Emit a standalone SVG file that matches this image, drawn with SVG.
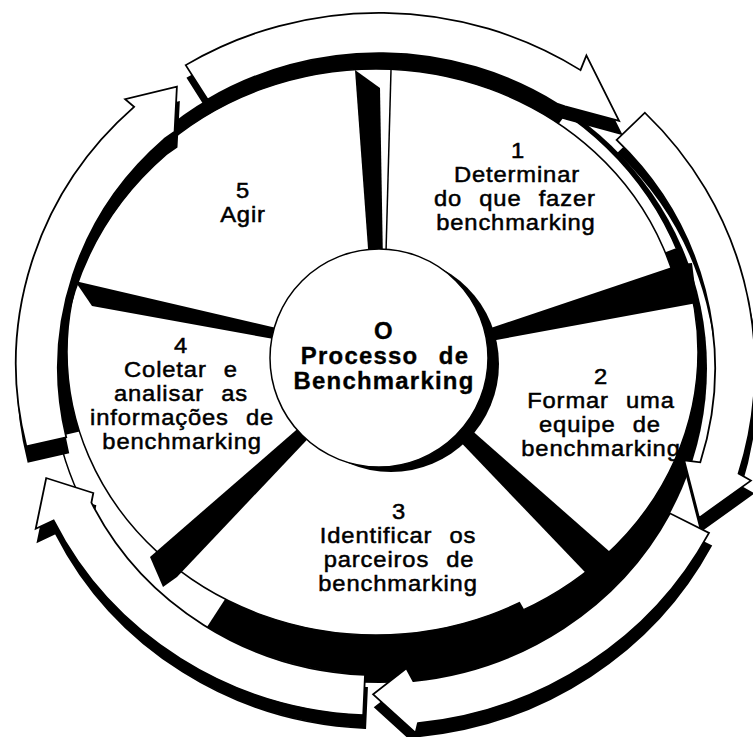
<svg xmlns="http://www.w3.org/2000/svg" width="753" height="737" viewBox="0 0 753 737">
<style>
.lbl{font-family:"Liberation Sans",Arial,Helvetica,sans-serif;font-size:22px;letter-spacing:0.8px;word-spacing:9px;fill:#000;stroke:#000;stroke-width:0.5px;text-anchor:middle}
.ctr{font-family:"Liberation Sans",Arial,Helvetica,sans-serif;font-size:23px;font-weight:bold;letter-spacing:1.2px;word-spacing:12px;fill:#000;stroke:#000;stroke-width:0.35px;text-anchor:middle}
.arrow{fill:#fff;stroke:#000;stroke-width:1.8;stroke-linejoin:miter}
.shadow{fill:#000;stroke:#000;stroke-width:1.8}
.ink{fill:#000}
.edge{fill:#fff;stroke:#000;stroke-width:1.5}
.line{fill:none;stroke:#000;stroke-width:1.5}
</style>
<defs>
<clipPath id="winLL"><polygon points="379,362 107,781 -31,649 -108,475"/></clipPath>
<clipPath id="winUR"><polygon points="379,362 680,-37 778,61 846,183"/></clipPath>
<clipPath id="winS2"><polygon points="379,358 865,241 849,529 629,791"/></clipPath>
<path id="a1" d="M -193.3,-315.5 A 370 370 0 0 1 201.5,-310.3 L 207.4,-325.6 L 240.1,-257.4 L 186.0,-272.6 L 178.6,-275.1 A 328 328 0 0 0 -171.4,-279.7 Z"/>
<path id="a2" d="M 265.9,-265.9 A 376 376 0 0 1 359.6,109.9 L 371.9,117.3 L 320.0,156.1 L 305.2,96.2 L 321.3,98.2 A 336 336 0 0 0 237.6,-237.6 Z"/>
<path id="a3" d="M 330.0,171.8 A 372 372 0 0 1 38.9,370.0 L 36.6,380.2 L -5.9,339.9 L 27.4,312.8 L 34.3,326.2 A 328 328 0 0 0 290.9,151.4 Z"/>
<path id="a4" d="M -15.8,361.7 A 362 362 0 0 1 -325.4,158.7 L -343.3,167.5 L -332.8,114.6 L -285.7,130.2 L -287.6,140.3 A 320 320 0 0 0 -14.0,319.7 Z"/>
<path id="a5" d="M -352.7,81.5 A 362 362 0 0 1 -244.9,-272.0 L -253.9,-280.0 L -202.1,-293.0 L -204.4,-246.2 L -214.8,-238.5 A 321 321 0 0 0 -312.8,72.2 Z"/>
</defs>
<rect width="753" height="737" fill="#fff"/>

<g id="disk">
<ellipse cx="379" cy="368" rx="328" ry="315" class="ink"/>
<ellipse cx="379" cy="368" rx="328" ry="315" class="edge" clip-path="url(#winLL)"/>
<ellipse cx="379" cy="368" rx="322" ry="312" class="edge" clip-path="url(#winUR)"/>
<ellipse cx="376" cy="352" rx="309" ry="283" class="edge"/>
<ellipse cx="376" cy="352" rx="322" ry="290" class="edge" clip-path="url(#winS2)"/>
</g>

<g id="dividers">
<polygon class="ink" points="355,70 380,88 383,262 369,262"/>
<polyline class="line" points="391,70 386,252"/>
<polygon class="ink" points="470,335 681,264 692,263 697,303 480,343"/>
<polygon class="ink" points="460,420 626,566 604,592 450,431"/>
<polygon class="ink" points="310,418 150,557 163,587 177,577 320,426"/>
<polygon class="ink" points="75,281 285,330 285,341 92,306"/>
</g>

<g id="connectors" transform="translate(379,368) scale(1,0.96)">
<use href="#a1" class="shadow" transform="translate(2,13.5)"/>
<use href="#a2" class="shadow" transform="translate(2,13.5)"/>
<use href="#a3" class="shadow" transform="translate(2,13.5)"/>
<use href="#a4" class="shadow" transform="translate(2,13.5)"/>
<use href="#a5" class="shadow" transform="translate(2,16)"/>
<use href="#a1" class="arrow"/>
<use href="#a2" class="arrow"/>
<use href="#a3" class="arrow"/>
<use href="#a4" class="arrow"/>
<use href="#a5" class="arrow"/>
</g>

<g id="center">
<circle cx="391" cy="364" r="108" class="ink"/>
<circle cx="379" cy="358" r="109" class="edge"/>
<g transform="translate(384,0) scale(1.04,1)">
<text class="ctr" x="0" y="339">O</text>
<text class="ctr" x="1" y="364">Processo de</text>
<text class="ctr" x="0" y="389">Benchmarking</text>
</g>
</g>

<g id="step-1" transform="translate(517,0) scale(1.08,1)">
<text class="lbl" x="1" y="158">1</text>
<text class="lbl" x="0" y="182">Determinar</text>
<text class="lbl" x="-2" y="206">do que fazer</text>
<text class="lbl" x="-1" y="230">benchmarking</text>
</g>

<g id="step-2" transform="translate(601,0) scale(1.08,1)">
<text class="lbl" x="0" y="384">2</text>
<text class="lbl" x="0" y="408">Formar uma</text>
<text class="lbl" x="-1" y="432">equipe de</text>
<text class="lbl" x="0" y="456">benchmarking</text>
</g>

<g id="step-3" transform="translate(398,0) scale(1.08,1)">
<text class="lbl" x="1" y="519">3</text>
<text class="lbl" x="0" y="543">Identificar os</text>
<text class="lbl" x="1" y="567">parceiros de</text>
<text class="lbl" x="0" y="591">benchmarking</text>
</g>

<g id="step-4" transform="translate(181,0) scale(1.08,1)">
<text class="lbl" x="0" y="353">4</text>
<text class="lbl" x="0" y="377">Coletar e</text>
<text class="lbl" x="0" y="401">analisar as</text>
<text class="lbl" x="1" y="425">informações de</text>
<text class="lbl" x="1" y="449">benchmarking</text>
</g>

<g id="step-5" transform="translate(243,0) scale(1.08,1)">
<text class="lbl" x="0" y="198">5</text>
<text class="lbl" x="0" y="222">Agir</text>
</g>
</svg>
